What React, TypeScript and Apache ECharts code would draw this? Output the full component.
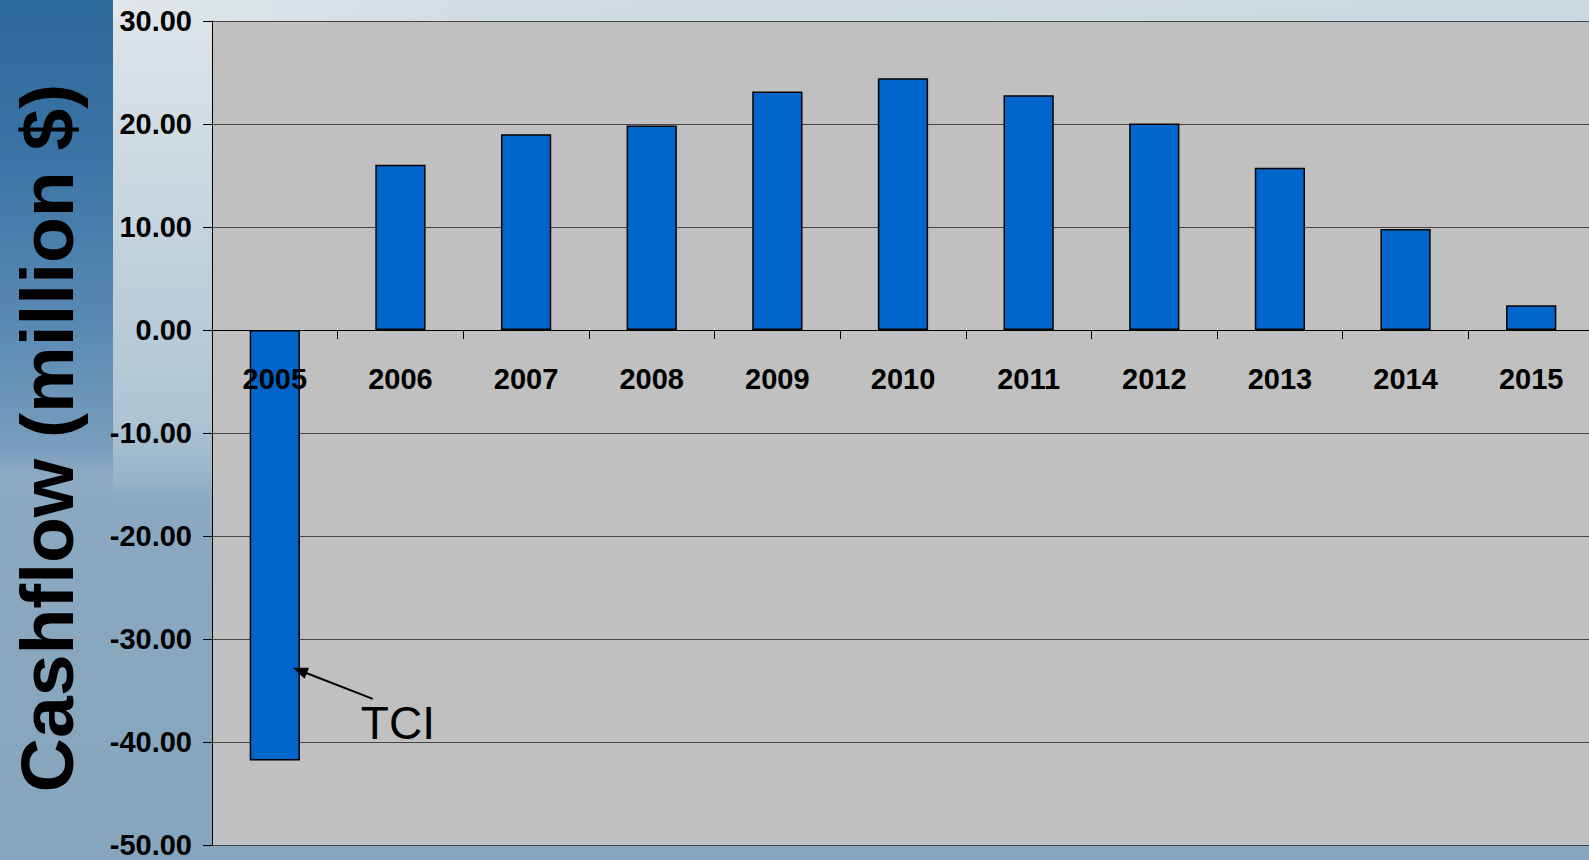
import React, { useEffect, useRef } from "react";
import * as echarts from "echarts";

const years = ["2005", "2006", "2007", "2008", "2009", "2010", "2011", "2012", "2013", "2014", "2015"];
const cashflow = [-41.8, 16.05, 19.0, 19.85, 23.15, 24.45, 22.8, 20.05, 15.75, 9.8, 2.4];
const yTicks = { min: -50, max: 30, interval: 10 };
const axisTitle = "Cashflow (million $)";
const annotation = { label: "TCI", category: "2005", value: -32.8 };

const FONT = "'Liberation Sans', Arial, Helvetica, sans-serif";
const GRID_H = 824;

export default function App() {
  const ref = useRef<HTMLDivElement>(null);

  useEffect(() => {
    if (!ref.current) return;
    const chart = echarts.init(ref.current, null, { renderer: "svg" });
    const zeroOffset = (GRID_H * (0 - yTicks.min)) / (yTicks.max - yTicks.min);
    const option: any = {
      animation: false,
      backgroundColor: "transparent",
      grid: {
        left: 212,
        top: 21,
        width: 1382,
        height: GRID_H,
        show: true,
        backgroundColor: "#c0c0c0",
        borderWidth: 0,
        containLabel: false,
        outerBoundsMode: "none",
      },
      xAxis: {
        type: "category",
        data: years,
        position: "bottom",
        offset: -zeroOffset,
        z: 10,
        axisLine: { onZero: false, lineStyle: { color: "#000", width: 1 } },
        axisTick: { show: true, length: 9, lineStyle: { color: "#000" } },
        axisLabel: { fontFamily: FONT, fontWeight: "bold", fontSize: 29, color: "#000", margin: 34 },
        splitLine: { show: false },
      },
      yAxis: {
        type: "value",
        min: yTicks.min,
        max: yTicks.max,
        interval: yTicks.interval,
        axisLine: { show: true, lineStyle: { color: "#000", width: 1 } },
        axisTick: { show: true, length: 9, lineStyle: { color: "#000" } },
        axisLabel: {
          fontFamily: FONT,
          fontWeight: "bold",
          fontSize: 29,
          color: "#000",
          margin: 20,
          formatter: (v: number) => v.toFixed(2),
        },
        splitLine: { show: true, lineStyle: { color: "#454545", width: 1 } },
      },
      series: [
        {
          type: "bar",
          data: cashflow,
          barWidth: "40%",
          itemStyle: { color: "#0066cc", borderColor: "#000", borderWidth: 1.5 },
          z: 3,
        },
      ],
    };
    chart.setOption(option);

    const tip = chart.convertToPixel({ xAxisIndex: 0, yAxisIndex: 0 }, [annotation.category, annotation.value]) as number[];
    const tx = tip[0] + 18;
    const ty = tip[1];
    const sx = tx + 80;
    const sy = ty + 31;
    const dx = tx - sx, dy = ty - sy;
    const len = Math.sqrt(dx * dx + dy * dy);
    const ux = dx / len, uy = dy / len;
    const nx = -uy, ny = ux;
    const hl = 15, hw = 6;
    const bx = tx - ux * hl, by = ty - uy * hl;

    chart.setOption({
      graphic: {
        elements: [
          {
            type: "text",
            x: 47,
            y: 438,
            rotation: Math.PI / 2,
            z: 100,
            style: {
              text: axisTitle,
              fontFamily: FONT,
              fontWeight: "bold",
              fontSize: 75,
              fill: "#000",
              align: "center",
              verticalAlign: "middle",
            },
          },
          {
            type: "line",
            z: 100,
            shape: { x1: sx, y1: sy, x2: bx + ux * 2, y2: by + uy * 2 },
            style: { stroke: "#000", lineWidth: 2 },
          },
          {
            type: "polygon",
            z: 100,
            shape: {
              points: [
                [tx, ty],
                [bx + nx * hw, by + ny * hw],
                [bx - nx * hw, by - ny * hw],
              ],
            },
            style: { fill: "#000" },
          },
          {
            type: "text",
            x: sx - 12,
            y: sy + 24,
            z: 100,
            style: {
              text: annotation.label,
              fontFamily: FONT,
              fontSize: 46,
              fill: "#000",
              align: "left",
              verticalAlign: "middle",
            },
          },
        ],
      },
    });

    return () => chart.dispose();
  }, []);

  const bg = [
    "linear-gradient(180deg, #2f6a9c 0px, #3a74a5 150px, #5a8ab3 330px, #7a9ebd 450px, rgba(134,166,189,0) 500px)",
    "linear-gradient(90deg, rgba(230,234,236,0.9) 0px, rgba(200,214,222,0.6) 500px, rgba(178,198,210,0.4) 1589px)",
    "linear-gradient(180deg, #dfe5e9 0px, #c8d6df 200px, #aec4d3 420px, #97b3c8 480px, #8aa9c0 500px, #86a6bd 860px)",
  ];

  return (
    <div
      style={{
        position: "fixed",
        left: 0,
        top: 0,
        width: 1589,
        height: 860,
        overflow: "hidden",
        backgroundImage: bg.join(","),
        backgroundSize: "113px 860px, 1589px 22px, 1589px 860px",
        backgroundRepeat: "no-repeat",
        backgroundPosition: "0 0, 0 0, 0 0",
      }}
    >
      <div ref={ref} style={{ width: 1589, height: 860 }} />
    </div>
  );
}
